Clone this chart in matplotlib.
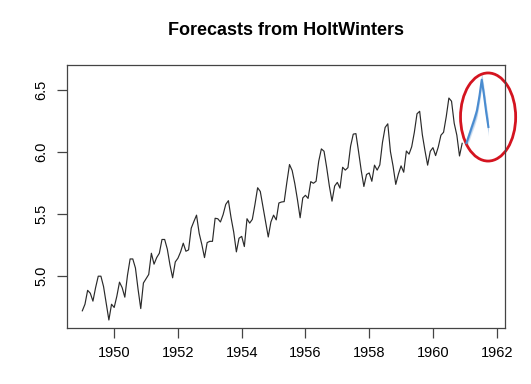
import numpy as np
import matplotlib
matplotlib.use("Agg")
import matplotlib.pyplot as plt
from matplotlib.patches import Ellipse

plt.rcParams['font.family'] = ['Liberation Sans', 'DejaVu Sans']

# log monthly passengers, 1949-1960
log_pass = [
    4.718, 4.771, 4.883, 4.860, 4.796, 4.905, 4.997, 4.997, 4.913, 4.779, 4.644, 4.771,
    4.745, 4.836, 4.949, 4.905, 4.828, 5.004, 5.136, 5.136, 5.063, 4.890, 4.736, 4.942,
    4.977, 5.011, 5.182, 5.094, 5.147, 5.182, 5.293, 5.293, 5.215, 5.088, 4.984, 5.112,
    5.142, 5.193, 5.263, 5.198, 5.209, 5.384, 5.438, 5.489, 5.342, 5.252, 5.147, 5.268,
    5.278, 5.278, 5.464, 5.460, 5.434, 5.493, 5.576, 5.606, 5.468, 5.352, 5.193, 5.303,
    5.318, 5.236, 5.460, 5.425, 5.455, 5.576, 5.710, 5.680, 5.557, 5.434, 5.313, 5.434,
    5.489, 5.451, 5.587, 5.595, 5.598, 5.753, 5.897, 5.849, 5.743, 5.613, 5.468, 5.628,
    5.649, 5.624, 5.759, 5.746, 5.762, 5.924, 6.023, 6.004, 5.872, 5.724, 5.602, 5.724,
    5.753, 5.707, 5.875, 5.852, 5.872, 6.045, 6.142, 6.146, 6.001, 5.849, 5.720, 5.817,
    5.829, 5.762, 5.892, 5.852, 5.894, 6.075, 6.196, 6.225, 6.001, 5.883, 5.737, 5.820,
    5.886, 5.835, 6.006, 5.981, 6.040, 6.157, 6.306, 6.326, 6.138, 6.009, 5.892, 6.004,
    6.033, 5.969, 6.038, 6.133, 6.157, 6.282, 6.433, 6.407, 6.230, 6.133, 5.966, 6.068,
]
start_year = 1949

# forecast
fc_time = [1961.05, 1961.13, 1961.22, 1961.30, 1961.38, 1961.46, 1961.53, 1961.60, 1961.67, 1961.74]
fc_mean = [6.07, 6.13, 6.20, 6.26, 6.33, 6.45, 6.58, 6.46, 6.32, 6.20]
fc_half80 = [0.02, 0.024, 0.027, 0.03, 0.032, 0.034, 0.036, 0.038, 0.04, 0.042]
fc_half95 = [0.04, 0.045, 0.05, 0.054, 0.058, 0.062, 0.065, 0.068, 0.071, 0.074]

x_ticks = [1950, 1952, 1954, 1956, 1958, 1960, 1962]
y_ticks = [5.0, 5.5, 6.0, 6.5]

t = start_year + np.arange(len(log_pass)) / 12.0
fc_mean = np.array(fc_mean)

fig = plt.figure(figsize=(5.31, 3.84), dpi=100)
ax = fig.add_axes([0.1256, 0.146, 0.8254, 0.685])

ax.plot(t, log_pass, color='#2a2a2a', lw=0.85)
ax.fill_between(fc_time, fc_mean - fc_half95, fc_mean + fc_half95, color='#d3e2f2', lw=0)
ax.fill_between(fc_time, fc_mean - fc_half80, fc_mean + fc_half80, color='#a9c7e8', lw=0)
ax.plot(fc_time, fc_mean, color='#4a8cd0', lw=1.5)

ax.add_patch(Ellipse((1961.73, 6.28), 1.73, 0.71, angle=0, fill=False,
                     edgecolor='#d41420', lw=2, clip_on=False))

ax.set_xlim(1948.51, 1962.26)
ax.set_ylim(4.58, 6.70)
ax.set_xticks(x_ticks)
ax.set_yticks(y_ticks)
ax.set_yticklabels([f"{v:.1f}" for v in y_ticks], rotation=90, va='center')
ax.tick_params(direction='out', length=7, width=0.9, color='#444444', labelsize=10.5,
               pad=6)
for s in ax.spines.values():
    s.set_color('#444444')
    s.set_linewidth(0.9)

fig.text(0.538, 0.92, "Forecasts from HoltWinters", ha='center', va='center',
         fontsize=13, fontweight='bold')

fig.savefig("out.png", dpi=100)
